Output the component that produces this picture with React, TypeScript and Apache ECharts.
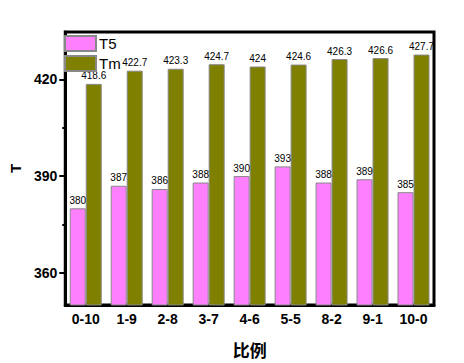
import React, { useEffect, useRef } from "react";
import * as echarts from "echarts";

const categories = ["0-10", "1-9", "2-8", "3-7", "4-6", "5-5", "8-2", "9-1", "10-0"];
const t5Values = [380, 387, 386, 388, 390, 393, 388, 389, 385];
const tmValues = [418.6, 422.7, 423.3, 424.7, 424, 424.6, 426.3, 426.6, 427.7];
const yTicks = [360, 390, 420];
const yMinorTicks = [375, 405];

export default function App() {
  const ref = useRef<HTMLDivElement>(null);
  useEffect(() => {
    document.body.style.margin = "0";
    const chart = echarts.init(ref.current!, null, { renderer: "svg" });
    const labelStyle = {
      show: true,
      position: "top" as const,
      fontSize: 10,
      fontFamily: "Arial, Liberation Sans",
      color: "#000",
      distance: 3,
    };
    chart.setOption({
      animation: false,
      backgroundColor: "#fff",
      grid: {
        left: 60,
        right: 30,
        top: 32,
        bottom: 55,
        show: true,
        borderColor: "#000",
        borderWidth: 3,
        backgroundColor: "transparent",
      },
      legend: {
        left: 64,
        top: 35,
        padding: 0,
        orient: "vertical",
        itemWidth: 31,
        itemHeight: 15,
        itemGap: 3,
        icon: "rect",
        textStyle: { fontSize: 15, fontFamily: "Arial, Liberation Sans", color: "#000", padding: [0, 0, 0, -2] },
        data: ["T5", "Tm"],
      },
      xAxis: {
        type: "category",
        data: categories,
        axisLine: { lineStyle: { color: "#000", width: 3 } },
        axisTick: { alignWithLabel: true, length: 4, lineStyle: { width: 2, color: "#000" } },
        axisLabel: { fontSize: 14, fontWeight: "bold", fontFamily: "Arial, Liberation Sans", color: "#000", margin: 7 },
        name: "比例",
        nameLocation: "middle",
        nameGap: 36,
        nameTextStyle: { fontSize: 17, fontWeight: "bold", fontFamily: "Noto Sans CJK SC", color: "#000" },
      },
      yAxis: [
        {
          type: "value",
          min: 350,
          max: 434.7,
          splitLine: { show: false },
          axisLine: { show: true, lineStyle: { color: "#000", width: 3 } },
          axisTick: { show: true, length: 6, inside: false, customValues: yTicks, lineStyle: { width: 2, color: "#000" } },
          axisLabel: {
            fontSize: 14,
            fontWeight: "bold",
            fontFamily: "Arial, Liberation Sans",
            color: "#000",
            margin: 8,
            customValues: yTicks,
          },
          name: "T",
          nameLocation: "middle",
          nameGap: 38,
          nameTextStyle: { fontSize: 15, fontWeight: "bold", fontFamily: "Arial, Liberation Sans", color: "#000" },
        },
        {
          type: "value",
          position: "left",
          min: 350,
          max: 434.7,
          splitLine: { show: false },
          axisLine: { show: false },
          axisTick: { show: true, length: 3, inside: false, customValues: yMinorTicks, lineStyle: { width: 2, color: "#000" } },
          axisLabel: { show: false },
        },
      ],
      series: [
        {
          name: "T5",
          type: "bar",
          data: t5Values,
          barWidth: 16,
          barGap: "0%",
          itemStyle: { color: "#FF80FF", borderColor: "#888", borderWidth: 1 },
          label: labelStyle,
        },
        {
          name: "Tm",
          type: "bar",
          data: tmValues,
          barWidth: 16,
          barGap: "0%",
          itemStyle: { color: "#808000", borderColor: "#888", borderWidth: 1 },
          label: labelStyle,
        },
      ],
    });
    return () => chart.dispose();
  }, []);
  return <div ref={ref} style={{ width: 464, height: 363 }} />;
}
